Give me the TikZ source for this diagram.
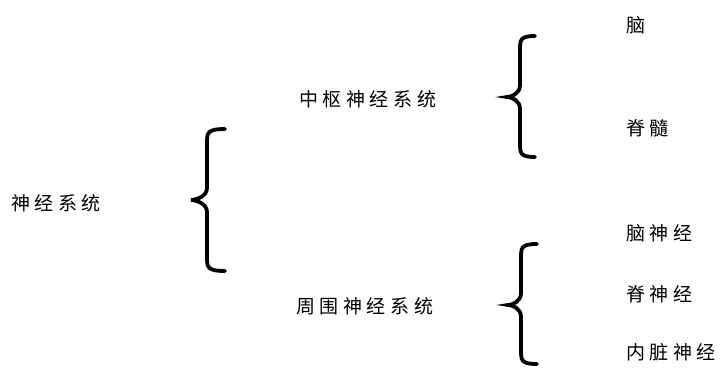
\documentclass[tikz,border=0pt]{standalone}
\usepackage{fontspec}
\newfontfamily\cjk[LetterSpace=24]{Noto Sans CJK SC}
\begin{document}
\begin{tikzpicture}[x=1pt,y=-1pt,
  lbl/.style={anchor=west,inner sep=0pt,font=\cjk\fontsize{19}{19}\selectfont},
  bracepath/.style={line width=3.8pt,line cap=round}]
\useasboundingbox (0,0) rectangle (725,378);
% labels
\node[lbl] (root) at (11,203) {神经系统};
\node[lbl] (cns) at (299,99) {中枢神经系统};
\node[lbl] (pns) at (296,306) {周围神经系统};
\node[lbl] (brain) at (626,25) {脑};
\node[lbl] (cord) at (626,128) {脊髓};
\node[lbl] (cn) at (626,233) {脑神经};
\node[lbl] (sn) at (626,294) {脊神经};
\node[lbl] (vn) at (626,352) {内脏神经};
% braces: \bracedraw{right}{mid}{left}{top}{tip}{bottom}
\newcommand\bracedraw[6]{%
  \draw[bracepath] (#1,#4) .. controls (#2,#4) and (#2,#4+4) .. (#2,#4+14)
    -- (#2,#5-12) .. controls (#2,#5-3) and (#3+4,#5) .. (#3,#5)
    .. controls (#3+4,#5) and (#2,#5+3) .. (#2,#5+12)
    -- (#2,#6-14) .. controls (#2,#6-4) and (#2,#6) .. (#1,#6);}
\bracedraw{225}{207}{191}{129}{200}{271}
\bracedraw{535}{520}{507}{36}{97}{157}
\bracedraw{537}{521}{508}{244}{305}{364}
\end{tikzpicture}
\end{document}
